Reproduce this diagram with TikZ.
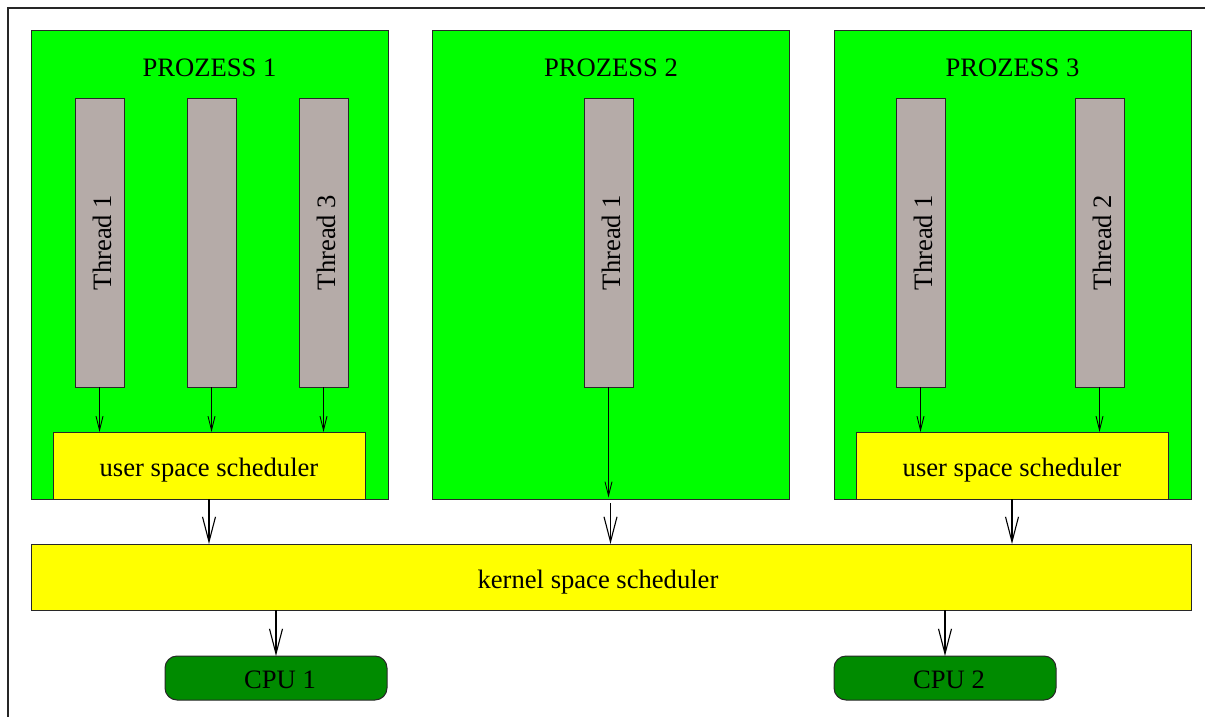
\documentclass[tikz,border=0pt]{standalone}
\usepackage{fontspec}
\setmainfont{Liberation Serif}
\usetikzlibrary{arrows.meta}
\definecolor{procgreen}{RGB}{0,255,0}
\definecolor{threadgray}{RGB}{181,171,168}
\definecolor{schedyellow}{RGB}{255,255,0}
\definecolor{cpugreen}{RGB}{0,139,0}
\definecolor{edgegray}{RGB}{40,40,40}
\tikzset{
  box/.style={draw=edgegray, line width=1pt, inner sep=0pt, outer sep=0pt, anchor=north west},
  procbox/.style={box, fill=procgreen, minimum width=357pt, minimum height=468pt},
  threadbox/.style={box, fill=threadgray, minimum width=49pt, minimum height=289pt},
  userbox/.style={box, fill=schedyellow, minimum width=312pt, minimum height=67pt},
  kernelbox/.style={box, fill=schedyellow, minimum width=1160pt, minimum height=66pt},
  cpubox/.style={box, fill=cpugreen, rounded corners=12pt, minimum width=222pt, minimum height=44pt},
  lbl/.style={inner sep=0pt, font=\fontsize{26.6}{30}\selectfont},
  tlbl/.style={lbl, rotate=90},
  smallarr/.style={draw=black, line width=0.9pt, -{Straight Barb[length=14pt, width=7pt, line width=0.9pt]}},
  bigarr/.style={draw=black, line width=1.1pt, -{Straight Barb[length=25pt, width=13pt, line width=1.1pt]}}
}
\begin{document}
\begin{tikzpicture}[x=1pt, y=-1pt]
\useasboundingbox (0,0) rectangle (1205,717);
\draw[line width=1.4pt, draw=black!85] (8,8) rectangle (1230,740);

% processes
\node[procbox] (p1) at (31,31) {};
\node[procbox] (p2) at (432,31) {};
\node[procbox] (p3) at (834,31) {};
\node[lbl] (p1l) at (209.5,68) {PROZESS 1};
\node[lbl] (p2l) at (611,68) {PROZESS 2};
\node[lbl] (p3l) at (1012.5,68) {PROZESS 3};

% threads
\node[threadbox] (t11) at (75,98) {};
\node[threadbox] (t12) at (187,98) {};
\node[threadbox] (t13) at (299,98) {};
\node[threadbox] (t21) at (584,98) {};
\node[threadbox] (t31) at (896,98) {};
\node[threadbox] (t32) at (1075,98) {};
\node[tlbl] (t11l) at ([xshift=3pt]t11.center) {Thread 1};
\node[tlbl] (t13l) at ([xshift=3pt]t13.center) {Thread 3};
\node[tlbl] (t21l) at ([xshift=3pt]t21.center) {Thread 1};
\node[tlbl] (t31l) at ([xshift=3pt]t31.center) {Thread 1};
\node[tlbl] (t32l) at ([xshift=3pt]t32.center) {Thread 2};

% user space schedulers
\node[userbox] (u1) at (53,432) {};
\node[userbox] (u3) at (856,432) {};
\node[lbl] (u1l) at ([yshift=-5pt]u1.center) {user space scheduler};
\node[lbl] (u3l) at ([yshift=-5pt]u3.center) {user space scheduler};

% kernel scheduler
\node[kernelbox] (k) at (31,544) {};
\node[lbl] (kl) at ([xshift=-13pt, yshift=-5pt]k.center) {kernel space scheduler};

% CPUs
\node[cpubox] (c1) at (165,656) {};
\node[cpubox] (c2) at (834,656) {};
\node[lbl] (c1l) at ([xshift=4pt, yshift=-2pt]c1.center) {CPU 1};
\node[lbl] (c2l) at ([xshift=4pt, yshift=-2pt]c2.center) {CPU 2};

% thread -> scheduler
\draw[smallarr] (t11.south) -- (t11.south |- u1.north);
\draw[smallarr] (t12.south) -- (t12.south |- u1.north);
\draw[smallarr] (t13.south) -- (t13.south |- u1.north);
\draw[smallarr, shorten >=1.5pt] (t21.south) -- (t21.south |- p2.south);
\draw[smallarr] (t31.south) -- (t31.south |- u3.north);
\draw[smallarr] (t32.south) -- (t32.south |- u3.north);

% processes -> kernel
\draw[bigarr] (u1.south) -- (u1.south |- k.north);
\draw[bigarr, shorten <=4pt] (p2.south) -- (p2.south |- k.north);
\draw[bigarr] (u3.south) -- (u3.south |- k.north);

% kernel -> CPUs
\draw[bigarr] (c1.north |- k.south) -- (c1.north);
\draw[bigarr] (c2.north |- k.south) -- (c2.north);
\end{tikzpicture}
\end{document}
